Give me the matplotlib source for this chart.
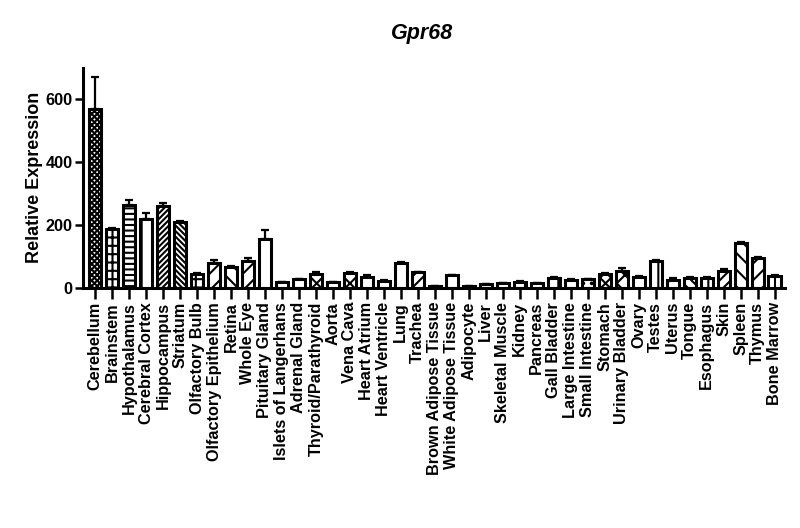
import matplotlib
matplotlib.use("Agg")
import matplotlib.pyplot as plt
import numpy as np

plt.rcParams['font.family'] = ['Liberation Sans', 'DejaVu Sans']
plt.rcParams['hatch.linewidth'] = 1.5

tissues = ["Cerebellum", "Brainstem", "Hypothalamus", "Cerebral Cortex", "Hippocampus",
           "Striatum", "Olfactory Bulb", "Olfactory Epithelium", "Retina", "Whole Eye",
           "Pituitary Gland", "Islets of Langerhans", "Adrenal Gland", "Thyroid/Parathyroid",
           "Aorta", "Vena Cava", "Heart Atrium", "Heart Ventricle", "Lung", "Trachea",
           "Brown Adipose Tissue", "White Adipose Tissue", "Adipocyte", "Liver",
           "Skeletal Muscle", "Kidney", "Pancreas", "Gall Bladder", "Large Intestine",
           "Small Intestine", "Stomach", "Urinary Bladder", "Ovary", "Testes", "Uterus",
           "Tongue", "Esophagus", "Skin", "Spleen", "Thymus", "Bone Marrow"]

values = [568, 188, 265, 220, 262, 210, 45, 80, 68, 85,
          157, 18, 28, 45, 18, 48, 35, 22, 80, 50,
          5, 40, 5, 12, 15, 20, 15, 32, 27, 28,
          45, 55, 35, 87, 27, 32, 32, 55, 143, 96, 38]

errors = [102, 3, 13, 18, 8, 2, 2, 8, 2, 10,
          26, 1, 2, 5, 2, 2, 5, 2, 2, 2,
          1, 2, 1, 1, 1, 1, 1, 2, 2, 2,
          2, 10, 2, 2, 5, 2, 2, 5, 3, 4, 2]

hatches = ["xxxxxx", "++", "---", "|", "//////", "\\\\\\\\\\\\", "++", "//", "\\\\", "//",
           "|", "-", "|", "x", "-", "xx", "x", "-", "|", "///",
           "-", "+", "-", "-", "-", "|", "-", "|", "x", "..",
           "xxx", "xx", "-", "|", "//", "\\\\\\", "+", "///", "\\\\", "//", "|"]

fig = plt.figure(figsize=(8, 5.28), dpi=100)
ax = fig.add_axes([0.104, 0.4545, 0.877, 0.4175])

x = np.arange(len(tissues))
ax.bar(x, values, width=0.72, color='white', edgecolor='black', linewidth=2.2,
       hatch=hatches, zorder=2)
ax.errorbar(x, values, yerr=[np.zeros(len(errors)), errors], fmt='none',
            ecolor='black', elinewidth=1.6, capsize=3, capthick=1.6, zorder=1)

ax.set_xlim(-0.7, len(tissues) - 0.4)
ax.set_ylim(0, 700)
ax.set_yticks([0, 200, 400, 600])
ax.set_xticks(x)
ax.set_xticklabels(tissues, rotation=90, fontsize=11.7, fontweight='bold')
for lab in ax.get_yticklabels():
    lab.set_fontweight('bold')
    lab.set_fontsize(11.7)
ax.tick_params(axis='x', length=8, width=1.8, pad=2)
ax.tick_params(axis='y', length=6, width=1.8, pad=1.5)
for s in ['top', 'right']:
    ax.spines[s].set_visible(False)
for s in ['left', 'bottom']:
    ax.spines[s].set_linewidth(2.2)

ax.set_ylabel("Relative Expression", fontsize=13, fontweight='bold', labelpad=2)
fig.text(0.528, 0.937, "Gpr68", fontsize=15.5, fontweight='bold', fontstyle='italic',
         ha='center', va='center')

fig.savefig("out.png", dpi=100)
